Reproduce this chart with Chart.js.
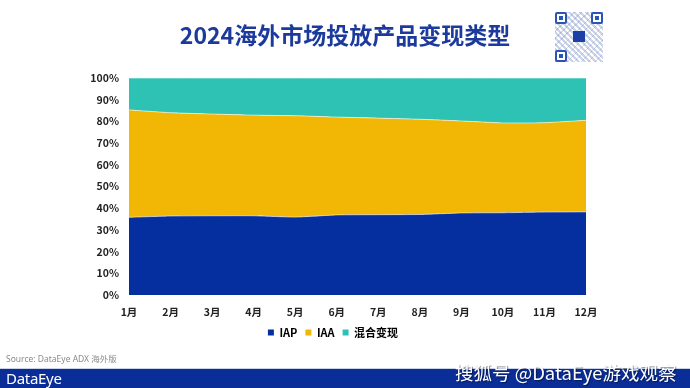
<!DOCTYPE html>
<html>
<head>
<meta charset="utf-8">
<script src="https://cdn.jsdelivr.net/npm/chart.js@4.4.1/dist/chart.umd.min.js"></script>
<style>
  html, body { margin: 0; padding: 0; background: #fff; }
  body { width: 690px; height: 388px; position: relative; overflow: hidden;
         font-family: "Noto Sans CJK SC", "Noto Sans", sans-serif; }
  #wrap { position: absolute; left: 0; top: 0; width: 690px; height: 388px; }
  #title { position: absolute; left: 0; width: 690px; top: 18px; text-align: center;
           font-size: 23px; font-weight: 700; color: #1B3A9C; letter-spacing: 0px; line-height: 32px; }
  #qr { position: absolute; left: 555px; top: 12px; width: 48px; height: 50px;
        background-color: #fff;
        background-image:
          repeating-linear-gradient(45deg, rgba(70,100,175,0.28) 0 2px, transparent 2px 4px),
          repeating-linear-gradient(-45deg, rgba(70,100,175,0.22) 0 1px, transparent 1px 5px); }
  .fp { position: absolute; width: 8px; height: 8px; border: 2px solid #2B55B5; background: #fff; border-radius: 2px; }
  .fp::after { content: ""; position: absolute; left: 2px; top: 2px; width: 4px; height: 4px; background: #2B55B5; }
  #qrc { position: absolute; left: 18px; top: 19px; width: 12px; height: 11px; background: #1D3FA8; }
  #source { position: absolute; left: 6px; top: 352px; font-size: 8.5px; color: #8a8a8a;
            font-family: "Noto Sans", "Noto Sans CJK SC", sans-serif; }
  #footer { position: absolute; left: 0; top: 368px; width: 690px; height: 20px; background: #0A2D97;
            border-top: 1px solid #c9d3ea; }
  #logo { position: absolute; left: 6px; top: 367px; font-size: 15px; color: #fff; line-height: 22px;
          font-family: "Noto Sans", sans-serif; letter-spacing: -0.3px; }
  #wm { position: absolute; left: 455px; top: 358px; font-size: 18.5px; color: #fff; line-height: 28px;
        text-shadow: 1px 1px 1px rgba(0,0,0,0.45); white-space: nowrap; }
</style>
</head>
<body>
<div id="wrap"><canvas id="c" width="690" height="388"></canvas></div>
<div id="title">2024海外市场投放产品变现类型</div>
<div id="qr">
  <div class="fp" style="left:0;top:0"></div>
  <div class="fp" style="right:0;top:0"></div>
  <div class="fp" style="left:0;bottom:0"></div>
  <div id="qrc"></div>
</div>
<div id="source">Source: DataEye ADX 海外版</div>
<div id="footer"></div>
<div id="logo">DataEye</div>
<div id="wm">搜狐号 @DataEye游戏观察</div>
<script>
const months = ["1月","2月","3月","4月","5月","6月","7月","8月","9月","10月","11月","12月"];
const seriesNames = ["IAP", "IAA", "混合变现"];
const iap   = [35.8, 36.4, 36.5, 36.5, 35.9, 36.9, 37.0, 37.1, 37.8, 37.9, 38.2, 38.3];
const iaa   = [49.5, 47.6, 46.9, 46.4, 46.7, 45.1, 44.5, 43.9, 42.4, 41.4, 41.2, 42.2];
const mixed = [14.7, 16.0, 16.6, 17.1, 17.4, 18.0, 18.5, 19.0, 19.8, 20.7, 20.6, 19.5];
const yTicks = [0, 10, 20, 30, 40, 50, 60, 70, 80, 90, 100];

const colors = ["#052F9E", "#F2B705", "#2EC2B4"];
const font = "'Noto Sans CJK SC', 'Noto Sans', sans-serif";

new Chart(document.getElementById('c'), {
  type: 'line',
  data: {
    labels: months,
    datasets: [iap, iaa, mixed].map((d, i) => ({
      label: seriesNames[i],
      data: d,
      backgroundColor: colors[i],
      borderColor: 'rgba(255,255,255,0.55)',
      borderWidth: 1,
      fill: i === 0 ? 'origin' : '-1',
      pointRadius: 0,
      tension: 0.15
    }))
  },
  options: {
    responsive: false,
    animation: false,
    layout: { padding: { left: 80, right: 104, top: 78, bottom: 40 } },
    plugins: {
      legend: {
        position: 'bottom',
        labels: {
          boxWidth: 6, boxHeight: 6, padding: 8, color: '#222',
          font: { family: font, size: 11, weight: 'bold' },
          generateLabels: (chart) => chart.data.datasets.map((ds, i) => ({
            text: ds.label, fillStyle: colors[i], strokeStyle: colors[i], lineWidth: 0,
            datasetIndex: i
          }))
        }
      },
      tooltip: { enabled: false }
    },
    scales: {
      x: {
        offset: false,
        grid: { display: false, drawTicks: false },
        border: { display: false },
        ticks: { color: '#222', font: { family: font, size: 10.5, weight: 'bold' }, padding: 11, maxRotation: 0, autoSkip: false },
        afterFit: (s) => { s.height = 24; }
      },
      y: {
        stacked: true,
        min: 0, max: 100,
        afterBuildTicks: (s) => { s.ticks = yTicks.map(v => ({ value: v })); },
        grid: { display: false, drawTicks: false },
        border: { display: false },
        ticks: { color: '#222', font: { family: font, size: 10.5, weight: 'bold' }, padding: 10,
                 callback: (v) => v + '%' },
        afterFit: (s) => { s.width = 49; }
      }
    }
  }
});
</script>
</body>
</html>
